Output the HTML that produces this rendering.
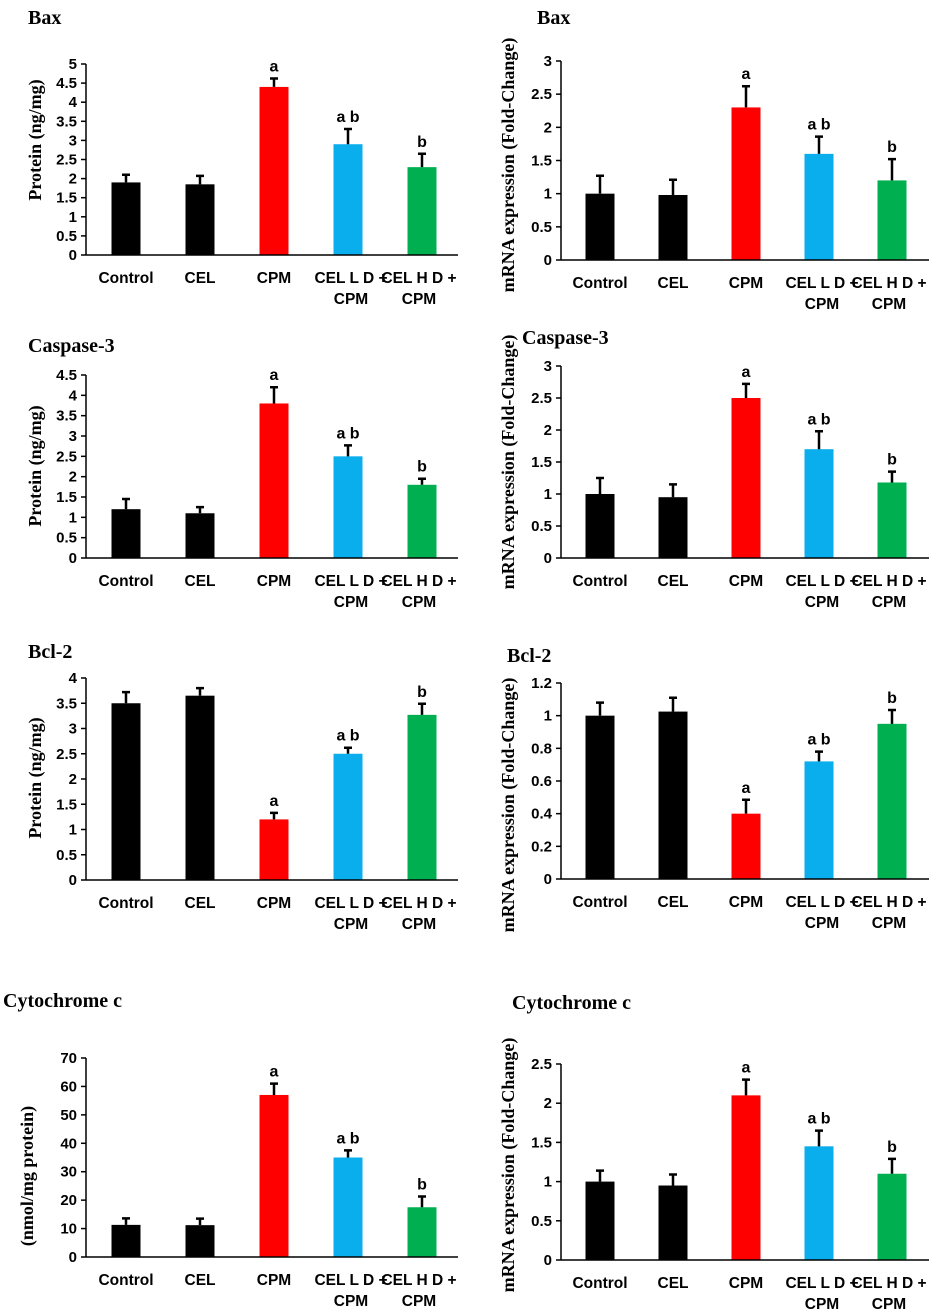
<!DOCTYPE html>
<html><head><meta charset="utf-8"><style>
body{margin:0;background:#fff}
svg{display:block}
.tk{font:bold 15px "Liberation Sans",sans-serif}
.cat{font:bold 15.5px "Liberation Sans",sans-serif}
.ttl{font:bold 20px "Liberation Serif",serif}
.yl{font:bold 18px "Liberation Serif",serif}
.sig{font:bold 16px "Liberation Sans",sans-serif}
</style></head><body>
<svg id="fig" width="934" height="1314" viewBox="0 0 934 1314"></svg>
<script>
const categories=["Control","CEL","CPM","CEL L D +|CPM","CEL H D +|CPM"];
const colors=["#000","#000","#ff0000","#0aaeec","#00b050"];
const sigLabels=["","","a","a b","b"];
const baxProt=[1.9,1.85,4.4,2.9,2.3], baxProtErr=[0.2,0.22,0.22,0.4,0.35];
const baxMrna=[1.0,0.98,2.3,1.6,1.2], baxMrnaErr=[0.27,0.23,0.32,0.26,0.32];
const caspProt=[1.2,1.1,3.8,2.5,1.8], caspProtErr=[0.25,0.15,0.4,0.27,0.15];
const caspMrna=[1.0,0.95,2.5,1.7,1.18], caspMrnaErr=[0.25,0.2,0.22,0.28,0.17];
const bclProt=[3.5,3.65,1.2,2.5,3.27], bclProtErr=[0.22,0.15,0.13,0.12,0.22];
const bclMrna=[1.0,1.025,0.4,0.72,0.95], bclMrnaErr=[0.08,0.085,0.085,0.06,0.085];
const bclSig=["","","a","a b","b"];
const cytoProt=[11.3,11.2,57,35,17.5], cytoProtErr=[2.3,2.3,4,2.5,3.8];
const cytoMrna=[1.0,0.95,2.1,1.45,1.1], cytoMrnaErr=[0.14,0.14,0.2,0.2,0.19];
const ticks5=["0","0.5","1","1.5","2","2.5","3","3.5","4","4.5","5"];
const ticks45=["0","0.5","1","1.5","2","2.5","3","3.5","4","4.5"];
const ticks4=["0","0.5","1","1.5","2","2.5","3","3.5","4"];
const ticks3=["0","0.5","1","1.5","2","2.5","3"];
const ticks25=["0","0.5","1","1.5","2","2.5"];
const ticks12=["0","0.2","0.4","0.6","0.8","1","1.2"];
const ticks70=["0","10","20","30","40","50","60","70"];

const NS="http://www.w3.org/2000/svg";
const svg=document.getElementById('fig');
function mk(tag,attrs,parent,text){const e=document.createElementNS(NS,tag);for(const k in attrs)e.setAttribute(k,attrs[k]);if(text!==undefined)e.textContent=text;(parent||svg).appendChild(e);return e;}

function panel(o){
  const g=mk('g',{});
  
  
  const tmax=parseFloat(o.ticks[o.ticks.length-1]);
  const y=v=>o.y0-(v/tmax)*(o.y0-o.yTop);
  const x=i=>o.ax+o.off+i*o.step;
  const t=mk('text',{x:o.tx,y:o.ty,class:'ttl'},g,o.title);
  
  
  const yl=mk('text',{x:0,y:0,class:'yl','text-anchor':'middle',transform:`translate(${o.ylx},${o.yly}) rotate(-90)`},g,o.ylabel);
  
  
  o.ticks.forEach(tl=>{const v=parseFloat(tl);const yy=y(v);
    mk('line',{x1:o.ax-5,x2:o.ax,y1:yy,y2:yy,stroke:'#000','stroke-width':1.5},g);
    const tt=mk('text',{x:o.ax-9,y:yy+5,class:'tk','text-anchor':'end'},g,tl);
    
    
  });
  const ya=mk('line',{x1:o.ax,x2:o.ax,y1:o.yTop,y2:o.y0,stroke:'#000','stroke-width':1.5},g);
  
  
  o.vals.forEach((v,i)=>{
    const cx=x(i),w=29;
    const b=mk('rect',{x:cx-w/2,y:y(v),width:w,height:o.y0-y(v),fill:colors[i]},g);
    
    
    const te=y(v+o.err[i]);
    const eb=mk('path',{d:`M${cx} ${y(v)} V${te} M${cx-4} ${te} H${cx+4}`,stroke:'#000','stroke-width':2.5,fill:'none'},g);
    
    
    if(o.sig[i]){const s=mk('text',{x:cx,y:te-7,class:'sig','text-anchor':'middle'},g,o.sig[i]);
      
      }
    const parts=categories[i].split('|');
    parts.forEach((p,j)=>{const c=mk('text',{x:cx+(i==4?-3:i==3?3:0),y:o.y0+28+j*21,class:'cat','text-anchor':'middle'},g,p);
      
      });
  });
  const xa=mk('line',{x1:o.ax,x2:o.ax+o.len,y1:o.y0,y2:o.y0,stroke:'#000','stroke-width':1.5},g);
  
  
}
const L={ax:86,off:40,step:74,len:372}, R={ax:561,off:39,step:73,len:368};
panel({...L,name:'bax-protein-chart',title:'Bax',tx:28,ty:24,ylabel:'Protein (ng/mg)',ylx:41,yly:140,ticks:ticks5,yTop:64,y0:255,vals:baxProt,err:baxProtErr,sig:sigLabels});
panel({...R,name:'bax-mrna-chart',title:'Bax',tx:537,ty:24,ylabel:'mRNA expression (Fold-Change)',ylx:514,yly:165,ticks:ticks3,yTop:61,y0:260,vals:baxMrna,err:baxMrnaErr,sig:sigLabels});
panel({...L,name:'caspase3-protein-chart',title:'Caspase-3',tx:28,ty:352,ylabel:'Protein (ng/mg)',ylx:41,yly:466,ticks:ticks45,yTop:375,y0:558,vals:caspProt,err:caspProtErr,sig:sigLabels});
panel({...R,name:'caspase3-mrna-chart',title:'Caspase-3',tx:522,ty:344,ylabel:'mRNA expression (Fold-Change)',ylx:514,yly:462,ticks:ticks3,yTop:366,y0:558,vals:caspMrna,err:caspMrnaErr,sig:sigLabels});
panel({...L,name:'bcl2-protein-chart',title:'Bcl-2',tx:28,ty:658,ylabel:'Protein (ng/mg)',ylx:41,yly:778,ticks:ticks4,yTop:678,y0:880,vals:bclProt,err:bclProtErr,sig:bclSig});
panel({...R,name:'bcl2-mrna-chart',title:'Bcl-2',tx:507,ty:662,ylabel:'mRNA expression (Fold-Change)',ylx:514,yly:805,ticks:ticks12,yTop:683,y0:879,vals:bclMrna,err:bclMrnaErr,sig:bclSig});
panel({...L,name:'cytochrome-c-protein-chart',title:'Cytochrome c',tx:3,ty:1007,ylabel:'(nmol/mg protein)',ylx:33,yly:1176,ticks:ticks70,yTop:1058,y0:1257,vals:cytoProt,err:cytoProtErr,sig:sigLabels});
panel({...R,name:'cytochrome-c-mrna-chart',title:'Cytochrome c',tx:512,ty:1009,ylabel:'mRNA expression (Fold-Change)',ylx:514,yly:1165,ticks:ticks25,yTop:1064,y0:1260,vals:cytoMrna,err:cytoMrnaErr,sig:sigLabels});
</script>
</body></html>
